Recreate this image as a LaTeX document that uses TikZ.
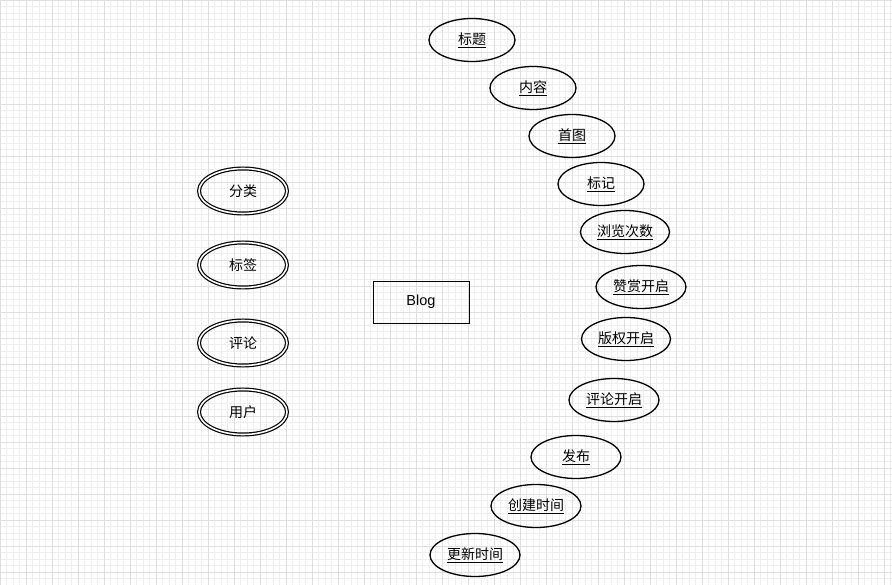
\documentclass[tikz,border=0pt]{standalone}
\usepackage{fontspec}
\setmainfont{Liberation Sans}
\newfontfamily\cjk{Noto Sans CJK SC}
\usetikzlibrary{shapes.geometric}

\begin{document}
\begin{tikzpicture}[x=1pt,y=-1pt,
	attr/.style={ellipse,draw,line width=1.3pt,minimum width=86pt,minimum height=43pt,inner sep=0pt,font=\cjk\fontsize{14}{16}\selectfont},
	multi/.style={attr,double,double distance=1.6pt,line width=1.2pt,minimum width=88pt,minimum height=45pt},
	entity/.style={rectangle,draw,line width=0.9pt,minimum width=96pt,minimum height=42pt,font=\fontsize{14.5}{16}\selectfont}]
	\useasboundingbox (0,0) rectangle (892,585);
	% background grid
	\draw[gray!13,line width=0.6pt] (0pt,0pt) grid[step=6.5pt] (892pt,-585pt);
	\draw[gray!25,line width=0.7pt] (0pt,0pt) grid[step=26pt] (892pt,-585pt);

	\node[entity] (blog) at (421,302) {Blog};

	\node[multi] (fenlei) at (243,191) {分类};
	\node[multi] (biaoqian) at (243,265) {标签};
	\node[multi] (pinglun) at (243,343) {评论};
	\node[multi] (yonghu) at (243,412) {用户};

	\node[attr] (biaoti) at (472,40) {\underline{标题}};
	\node[attr] (neirong) at (533,88) {\underline{内容}};
	\node[attr] (shoutu) at (572,136) {\underline{首图}};
	\node[attr] (biaoji) at (601,184) {\underline{标记}};
	\node[attr,minimum width=89pt] (liulan) at (625,232) {\underline{浏览次数}};
	\node[attr,minimum width=90pt] (zanshang) at (641,287) {\underline{赞赏开启}};
	\node[attr,minimum width=89pt] (banquan) at (626,339) {\underline{版权开启}};
	\node[attr,minimum width=90pt] (pinglunkq) at (614,400) {\underline{评论开启}};
	\node[attr,minimum width=90pt] (fabu) at (576,457) {\underline{发布}};
	\node[attr,minimum width=90pt] (chuangjian) at (536,506) {\underline{创建时间}};
	\node[attr,minimum width=90pt] (gengxin) at (475,555) {\underline{更新时间}};
\end{tikzpicture}
\end{document}
